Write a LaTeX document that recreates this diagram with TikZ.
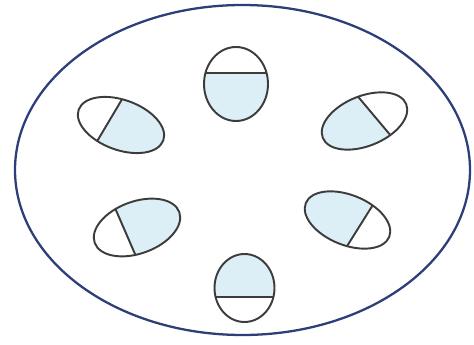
\documentclass[tikz,border=0pt]{standalone}
\usepackage{xcolor}
\usepackage{tikz}
\definecolor{rim}{RGB}{45,62,120}
\definecolor{edge}{RGB}{60,60,60}
\definecolor{paleblue}{RGB}{220,238,246}
\begin{document}
\begin{tikzpicture}[
  x=0.02cm, y=0.02cm,
  outer/.style={draw=rim, line width=1.3pt},
  cell/.style={draw=edge, line width=1.1pt},
  cellfill/.style={fill=paleblue}
]
\useasboundingbox (0,0) rectangle (474,345);
% big vessel
\draw[outer] (242.5,175) ellipse[x radius=227.5, y radius=165];
% six cells: centre / tilt / radii / chord end angles
\foreach \cx/\cy/\rot/\a/\b/\ta/\tb in {
    236/261/0/32/37/162.7/377.3,
    244.5/57/0/30/34/-15.3/195.3,
    121/220/-20/45/25/100/-112,
    364.5/224/22/45/25/86/294.5,
    137/117.5/20/45/26/108/-104,
    347.5/125/-22/45/25/66.7/282}{
  \begin{scope}[shift={(\cx,\cy)}, rotate=\rot]
    \coordinate (p) at ({\a*cos(\ta)},{\b*sin(\ta)});
    \coordinate (q) at ({\a*cos(\tb)},{\b*sin(\tb)});
    \fill[cellfill] (p) arc[start angle=\ta, end angle=\tb, x radius=\a, y radius=\b] -- cycle;
    \draw[cell] (0,0) ellipse[x radius=\a, y radius=\b];
    \draw[cell] (p) -- (q);
  \end{scope}
}
\end{tikzpicture}
\end{document}
